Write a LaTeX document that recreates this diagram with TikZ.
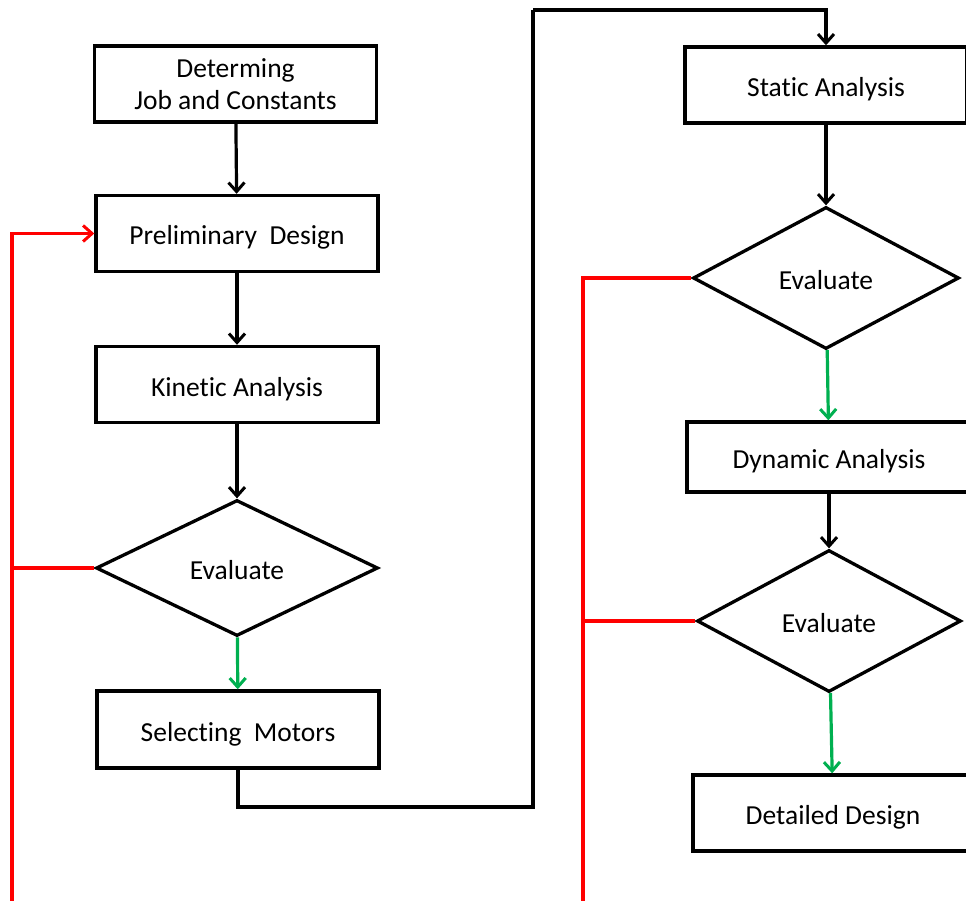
\documentclass[tikz,border=0pt]{standalone}
\usepackage{fontspec}
\setmainfont[Ligatures={NoCommon}]{Carlito}
\usetikzlibrary{shapes.geometric,arrows.meta}
\definecolor{okgreen}{RGB}{0,176,80}
\begin{document}
\begin{tikzpicture}[x=1pt,y=-1pt,
  txt/.style={font=\fontsize{27.5}{32}\selectfont},
  one/.style={text height=23pt,text depth=0pt},
  box/.style={draw,line width=3.4pt,rectangle,inner sep=0pt,minimum width=282pt,minimum height=76pt,txt,align=center},
  dia/.style={draw,line width=3.3pt,diamond,inner sep=0pt,minimum width=282pt,minimum height=136pt,txt,one},
  tip/.style={-{Straight Barb[length=9pt,width=16pt,line width=3pt]}},
  arr/.style={line width=3.2pt,tip},
  redl/.style={line width=3.2pt,red},
  grn/.style={arr,okgreen}]
\useasboundingbox (0,0) rectangle (966,901);
\node[box] (dj) at (235.5,84) {Determing\\Job and Constants};
\node[box,one] (pd) at (237,233.5) {Preliminary\ \ Design};
\node[box,one] (ka) at (237,384.5) {Kinetic Analysis};
\node[dia] (e1) at (237,568) {Evaluate};
\node[box,one,minimum height=77pt] (sm) at (238,729.5) {Selecting\ \ Motors};
\node[box,one,minimum width=282pt] (sa) at (826,85) {Static Analysis};
\node[dia,minimum width=266pt,minimum height=142pt] (e2) at (826,278) {Evaluate};
\node[box,one,minimum width=284pt,minimum height=70pt] (da) at (829,457) {Dynamic Analysis};
\node[dia,minimum width=264pt,minimum height=142pt] (e3) at (829,621) {Evaluate};
\node[box,one,minimum width=280pt] (dd) at (833,813) {Detailed Design};
\coordinate (t1) at (533,807);
\coordinate (t2) at (533,10);
\coordinate (rl) at (12,901);
\coordinate (rr) at (583,901);
\draw[arr] (dj) -- (pd);
\draw[arr] (pd) -- (ka);
\draw[arr] (ka) -- (e1);
\draw[grn] (e1) -- (sm);
\draw[line width=3.2pt] (sm.south) |- (t1) -- (t2);
\draw[arr] (t2) -| (sa.north);
\draw[arr] (sa) -- (e2);
\draw[grn] (e2) -- (da);
\draw[arr] (da) -- (e3);
\draw[grn] (e3) -- (dd);
\draw[redl,tip] (rl) |- (pd.west);
\draw[redl] (e1.west) -- (e1.west -| rl);
\draw[redl] (rr) |- (e2.west);
\draw[redl] (e3.west) -- (e3.west -| rr);
\end{tikzpicture}
\end{document}
